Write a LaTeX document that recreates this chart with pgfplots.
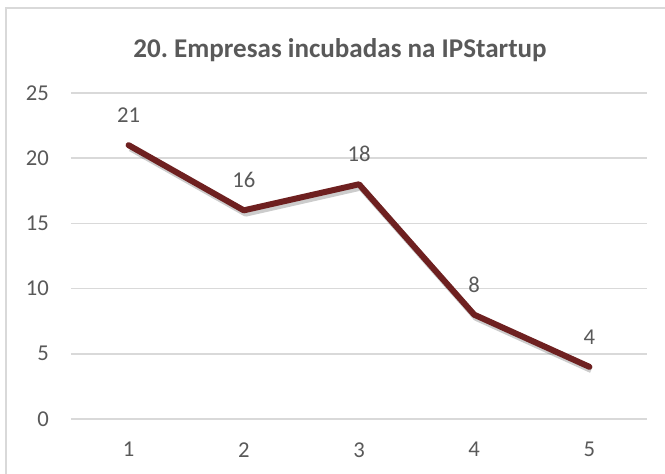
\documentclass[border=0pt]{standalone}
\usepackage{fontspec}
\setmainfont{Carlito}
\usepackage{pgfplots}
\pgfplotsset{compat=1.18}
\definecolor{txt}{HTML}{595959}
\definecolor{gridc}{HTML}{D9D9D9}
\definecolor{linec}{RGB}{110,32,32}
\frenchspacing
\begin{document}
\begin{tikzpicture}
  % page: 665 x 474 px, 1 px = 0.75pt
  \path[use as bounding box] (0,0) rectangle (498.75pt,355.5pt);
  \draw[gridc, line width=1.2pt] (4.5pt,-1pt) -- (4.5pt,349.5pt) -- (500pt,349.5pt);
  \node[font=\fontsize{20.3}{24}\selectfont\bfseries, text=txt] at (255pt,318pt)
    {20. Empresas incubadas na IPStartup};
  \begin{axis}[
    at={(53.25pt,41.25pt)}, anchor=south west,
    scale only axis,
    width=432pt, height=244.5pt,
    xmin=0.5, xmax=5.5,
    ymin=0, ymax=25,
    xtick={1,2,3,4,5},
    ytick={0,5,10,15,20,25},
    ymajorgrids,
    grid style={gridc, line width=1.2pt},
    axis line style={draw=none},
    major tick length=0pt,
    tick label style={font=\fontsize{17}{20}\selectfont, text=txt},
    /pgf/number format/assume math mode=true,
    yticklabel style={xshift=-13pt},
    xticklabel style={yshift=-14pt},
    clip=false,
  ]
    % shadow
    \addplot[black, opacity=0.2, line width=5pt, line join=round,
      xshift=1.5pt, yshift=-2.2pt]
      coordinates {(1,21) (2,16) (3,18) (4,8) (5,4)};
    \addplot[linec, line width=4.5pt, line join=round, line cap=round,
      nodes near coords,
      nodes near coords style={anchor=base, inner sep=0pt, yshift=17pt,
        font=\fontsize{17}{20}\selectfont, text=txt}]
      coordinates {(1,21) (2,16) (3,18) (4,8) (5,4)};
  \end{axis}
\end{tikzpicture}
\end{document}
